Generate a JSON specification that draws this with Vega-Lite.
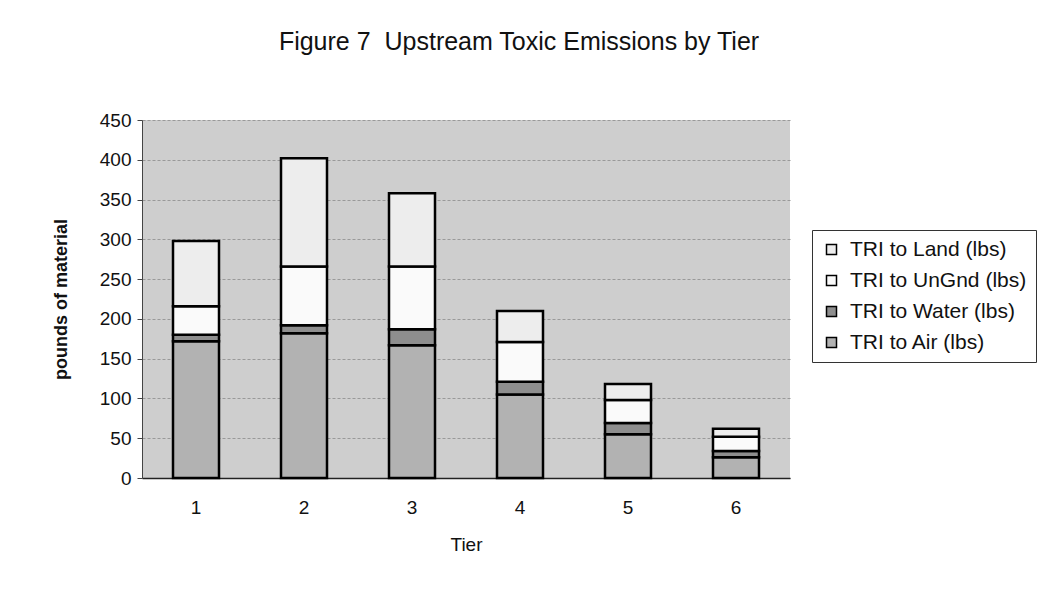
{
  "$schema": "https://vega.github.io/schema/vega-lite/v6.json",
  "width": 648,
  "height": 358,
  "autosize": "none",
  "padding": {"left": 142, "top": 120, "right": 260, "bottom": 117},
  "background": "white",
  "config": {
    "font": "Liberation Sans",
    "view": {"fill": "#cecece", "stroke": null}
  },
  "title": {
    "text": "Figure 7\u00a0\u00a0Upstream Toxic Emissions by Tier",
    "fontSize": 25,
    "fontWeight": "normal",
    "color": "#111",
    "anchor": "middle",
    "dx": 53,
    "offset": 56
  },
  "data": {
    "values": [
      {"tier": "1", "series": "TRI to Air (lbs)", "lbs": 172},
      {"tier": "1", "series": "TRI to Water (lbs)", "lbs": 8},
      {"tier": "1", "series": "TRI to UnGnd (lbs)", "lbs": 36},
      {"tier": "1", "series": "TRI to Land (lbs)", "lbs": 82},
      {"tier": "2", "series": "TRI to Air (lbs)", "lbs": 182},
      {"tier": "2", "series": "TRI to Water (lbs)", "lbs": 10},
      {"tier": "2", "series": "TRI to UnGnd (lbs)", "lbs": 74},
      {"tier": "2", "series": "TRI to Land (lbs)", "lbs": 136},
      {"tier": "3", "series": "TRI to Air (lbs)", "lbs": 167},
      {"tier": "3", "series": "TRI to Water (lbs)", "lbs": 20},
      {"tier": "3", "series": "TRI to UnGnd (lbs)", "lbs": 79},
      {"tier": "3", "series": "TRI to Land (lbs)", "lbs": 92},
      {"tier": "4", "series": "TRI to Air (lbs)", "lbs": 105},
      {"tier": "4", "series": "TRI to Water (lbs)", "lbs": 16},
      {"tier": "4", "series": "TRI to UnGnd (lbs)", "lbs": 50},
      {"tier": "4", "series": "TRI to Land (lbs)", "lbs": 39},
      {"tier": "5", "series": "TRI to Air (lbs)", "lbs": 55},
      {"tier": "5", "series": "TRI to Water (lbs)", "lbs": 14},
      {"tier": "5", "series": "TRI to UnGnd (lbs)", "lbs": 29},
      {"tier": "5", "series": "TRI to Land (lbs)", "lbs": 20},
      {"tier": "6", "series": "TRI to Air (lbs)", "lbs": 26},
      {"tier": "6", "series": "TRI to Water (lbs)", "lbs": 8},
      {"tier": "6", "series": "TRI to UnGnd (lbs)", "lbs": 18},
      {"tier": "6", "series": "TRI to Land (lbs)", "lbs": 10}
    ]
  },
  "transform": [
    {"calculate": "indexof(['TRI to Air (lbs)','TRI to Water (lbs)','TRI to UnGnd (lbs)','TRI to Land (lbs)'], datum.series)", "as": "stackOrder"}
  ],
  "mark": {"type": "bar", "stroke": "black", "strokeWidth": 2.5, "width": 46},
  "encoding": {
    "x": {
      "field": "tier",
      "type": "ordinal",
      "title": "Tier",
      "scale": {"paddingInner": 0, "paddingOuter": 0},
      "axis": {
        "labelAngle": 0,
        "labelFontSize": 19,
        "labelColor": "#111",
        "labelPadding": 20,
        "ticks": false,
        "domainColor": "#222",
        "domainWidth": 1.5,
        "titleFontSize": 19,
        "titleFontWeight": "normal",
        "titleColor": "#111",
        "titlePadding": 18
      }
    },
    "y": {
      "field": "lbs",
      "type": "quantitative",
      "aggregate": "sum",
      "stack": "zero",
      "title": "pounds of material",
      "scale": {"domain": [0, 450], "nice": false},
      "axis": {
        "values": [0, 50, 100, 150, 200, 250, 300, 350, 400, 450],
        "labelFontSize": 19,
        "labelColor": "#111",
        "labelPadding": 6,
        "tickSize": 5,
        "tickColor": "#444",
        "domainColor": "#444",
        "gridColor": "#999999",
        "gridWidth": 1,
        "gridDash": [3, 2],
        "titleFontSize": 18,
        "titleFontWeight": "bold",
        "titleColor": "#111",
        "titlePadding": 29
      }
    },
    "color": {
      "field": "series",
      "type": "nominal",
      "scale": {
        "domain": ["TRI to Land (lbs)", "TRI to UnGnd (lbs)", "TRI to Water (lbs)", "TRI to Air (lbs)"],
        "range": ["#ededed", "#fafafa", "#8e8e8e", "#b2b2b2"]
      },
      "legend": {
        "title": null,
        "orient": "none",
        "legendX": 670,
        "legendY": 110,
        "labelFontSize": 21,
        "labelColor": "#111",
        "labelOffset": 8,
        "symbolType": "square",
        "symbolSize": 100,
        "symbolStrokeColor": "black",
        "symbolStrokeWidth": 1.5,
        "rowPadding": 9,
        "strokeColor": "#333",
        "fillColor": "white",
        "padding": 9,
        "labelLimit": 300
      }
    },
    "order": {"field": "stackOrder", "type": "quantitative"}
  }
}
